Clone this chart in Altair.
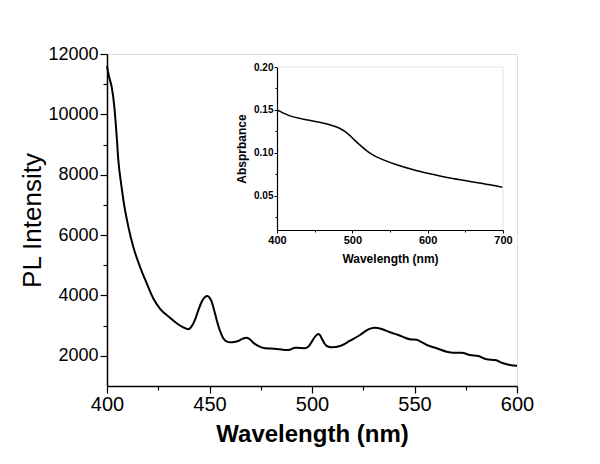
import altair as alt
import pandas as pd

# Main PL spectrum
pl_wavelength = [400, 401, 402.3, 403.5, 404.7, 405.5, 407, 408, 410.4, 412.8, 416.1, 419.4,
                 422.6, 426, 430, 434, 437, 439.7, 441.5, 442.9, 444.5, 446.2, 447.8, 448.9,
                 450, 451.1, 452.3, 453.5, 455, 456.7, 458.5, 460, 462, 464, 466, 468.1, 470,
                 471.4, 474, 477.1, 480, 482.8, 485, 487.7, 489.5, 491.7, 494, 496.6, 498.5,
                 499.9, 501, 502.3, 503.1, 504, 504.7, 506, 507.2, 509.6, 513.7, 518.5, 523.4,
                 527.5, 530.7, 534, 538, 542.1, 545, 547.8, 551.1, 553, 556, 560.8, 565.7,
                 568.9, 573, 577.1, 581.1, 585.2, 589.3, 593.3, 596.6, 600]
pl_intensity = [11600, 11250, 10900, 10300, 9300, 8500, 7650, 7160, 6280, 5615, 4950, 4400,
                3900, 3550, 3300, 3080, 2950, 2880, 3000, 3190, 3500, 3790, 3950, 3980,
                3930, 3790, 3500, 3190, 2850, 2580, 2470, 2450, 2460, 2490, 2560, 2600, 2530,
                2430, 2320, 2250, 2240, 2225, 2210, 2192, 2210, 2270, 2260, 2250, 2320,
                2467, 2590, 2690, 2720, 2680, 2580, 2420, 2325, 2282, 2325, 2500, 2689,
                2878, 2930, 2888, 2779, 2689, 2610, 2547, 2530, 2470, 2358, 2249, 2136,
                2103, 2103, 2027, 1993, 1884, 1861, 1752, 1695, 1670]

# Inset absorbance spectrum
abs_wavelength = [400, 417.3, 435, 452.6, 465, 475, 483.6, 490, 496.9, 503, 510.2, 516,
                  523.5, 532, 541.2, 558.9, 581, 603, 629.6, 656.2, 682.7, 700]
abs_value = [0.150, 0.143, 0.1392, 0.1362, 0.1338, 0.1313, 0.1283, 0.1250, 0.1200, 0.1148,
             0.1090, 0.1045, 0.0995, 0.0952, 0.0917, 0.0860, 0.0802, 0.0756, 0.0706, 0.0666,
             0.0628, 0.0597]

main_x_ticks = list(range(400, 601, 25))
main_y_ticks = list(range(2000, 12001, 1000))
inset_x_ticks = list(range(400, 701, 50))
inset_y_ticks = [0.025, 0.05, 0.075, 0.10, 0.125, 0.15, 0.175, 0.20]

pl_df = pd.DataFrame({"wl": pl_wavelength, "I": pl_intensity})
abs_df = pd.DataFrame({"wl": abs_wavelength, "A": abs_value})

FONT = "Liberation Sans"

main = alt.Chart(pl_df).mark_line(interpolate="monotone", color="black", strokeWidth=2).encode(
    x=alt.X("wl:Q", scale=alt.Scale(domain=[400, 600], nice=False, zero=False),
            axis=alt.Axis(title="Wavelength (nm)", values=main_x_ticks, grid=False, labelFlush=False,
                          labelExpr="datum.value % 50 === 0 ? datum.label : ''",
                          tickSize={"condition": {"test": "datum.value % 50 === 0", "value": 7}, "value": 4},
                          labelFontSize=20, labelPadding=1, labelFont=FONT, labelColor="black",
                          titleFontSize=24, titleFontWeight="bold", titleFont=FONT, titleColor="black",
                          titlePadding=8, domainColor="black", domainWidth=1.5,
                          tickColor="black", tickWidth=1.2)),
    y=alt.Y("I:Q", scale=alt.Scale(domain=[1000, 12000], nice=False, zero=False),
            axis=alt.Axis(title="PL Intensity", values=main_y_ticks, grid=False, format="d",
                          labelFlush=False,
                          labelExpr="datum.value % 2000 === 0 ? datum.label : ''",
                          tickSize={"condition": {"test": "datum.value % 2000 === 0", "value": 7}, "value": 4},
                          labelFontSize=18, labelPadding=2, labelFont=FONT, labelColor="black",
                          titleFontSize=26, titleFontWeight="normal", titleFont=FONT, titleColor="black",
                          titlePadding=2, domainColor="black", domainWidth=1.5,
                          tickColor="black", tickWidth=1.2)),
)

ix_scale = alt.Scale(domain=[400, 700], range=[170, 396], nice=False, zero=False)
iy_scale = alt.Scale(domain=[0.01, 0.20], range=[176, 13], nice=False, zero=False)

inset_line = alt.Chart(abs_df).mark_line(interpolate="monotone", color="black", strokeWidth=1.5).encode(
    x=alt.X("wl:Q", scale=ix_scale,
            axis=alt.Axis(title="Wavelength (nm)", values=inset_x_ticks, grid=False, orient="bottom",
                          offset=-156, labelFlush=False,
                          labelExpr="datum.value % 100 === 0 ? datum.label : ''",
                          tickSize={"condition": {"test": "datum.value % 100 === 0", "value": 3}, "value": 2},
                          labelFontSize=11, labelFontWeight="bold", labelPadding=1, labelFont=FONT,
                          labelColor="black", titleFontSize=12, titleFontWeight="bold", titleFont=FONT,
                          titleColor="black", titlePadding=8, domainColor="black", domainWidth=1.2,
                          tickColor="black")),
    y=alt.Y("A:Q", scale=iy_scale,
            axis=alt.Axis(title="Absprbance", values=inset_y_ticks, grid=False, orient="left",
                          offset=-170, labelFlush=False,
                          labelExpr="round(datum.value*1000) % 50 === 0 ? format(datum.value, '.2f') : ''",
                          tickSize={"condition": {"test": "round(datum.value*1000) % 50 === 0", "value": 3}, "value": 2},
                          labelFontSize=10, labelFontWeight="bold", labelPadding=1, labelFont=FONT,
                          labelColor="black", titleFontSize=12, titleFontWeight="bold", titleFont=FONT,
                          titleColor="black", titlePadding=5, domainColor="black", domainWidth=1.2,
                          tickColor="black")),
)

frame_top = alt.Chart(pd.DataFrame({"wl": [400], "wl2": [700], "A": [0.20]})).mark_rule(
    color="#e4e4e4", strokeWidth=1).encode(
    x=alt.X("wl:Q", scale=ix_scale), x2="wl2:Q",
    y=alt.Y("A:Q", scale=iy_scale))
frame_right = alt.Chart(pd.DataFrame({"wl": [700], "A": [0.01], "A2": [0.20]})).mark_rule(
    color="#e4e4e4", strokeWidth=1).encode(
    x=alt.X("wl:Q", scale=ix_scale),
    y=alt.Y("A:Q", scale=iy_scale), y2="A2:Q")

inset = alt.layer(inset_line, frame_top, frame_right)

chart = alt.layer(main, inset).resolve_scale(x="independent", y="independent").resolve_axis(
    x="independent", y="independent"
).properties(
    width=410, height=332,
    autosize=alt.AutoSizeParams(type="none"),
    padding={"left": 99, "top": 46, "right": 75, "bottom": 70},
).configure_view(stroke="#9a9a9a", strokeWidth=1).configure(background="white")

chart.save("out.html", embed_options={"renderer": "svg", "actions": False})
